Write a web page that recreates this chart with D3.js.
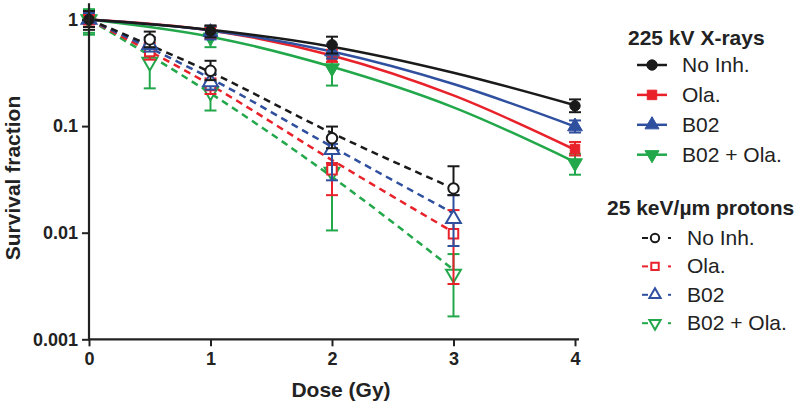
<!DOCTYPE html>
<html><head><meta charset="utf-8">
<script src="https://cdn.jsdelivr.net/npm/d3@7"></script>
<style>body{margin:0;background:#fff}svg{display:block;font-family:"Liberation Sans",Arial,Helvetica,sans-serif}</style>
</head><body><svg id="c" width="800" height="405"></svg>
<script>
// ---------- data ----------
const seriesNames = ["No Inh.", "Ola.", "B02", "B02 + Ola."];
const seriesColors = ["#1a1a1a", "#e8212a", "#2f4f9f", "#22a84a"];
const seriesSymbols = ["circle", "square", "triangle", "triangleDown"];
const xTicks = [0, 1, 2, 3, 4];
const yTicks = [1, 0.1, 0.01, 0.001];
const yTickLabels = ["1", "0.1", "0.01", "0.001"];

// 225 kV X-rays (filled markers, solid fit)
const xrayDoses = [0, 1, 2, 4];
const xrayMean  = [[1, 0.78, 0.58, 0.155], [1, 0.76, 0.45, 0.061], [1, 0.76, 0.50, 0.099], [1, 0.68, 0.35, 0.045]];
const xrayUpper = [[1.2, 0.88, 0.69, 0.178], [1.1, 0.85, 0.52, 0.071], [1.15, 0.87, 0.58, 0.113], [1.25, 0.85, 0.45, 0.055]];
const xrayLower = [[0.85, 0.68, 0.48, 0.135], [0.9, 0.66, 0.40, 0.053], [0.85, 0.65, 0.43, 0.087], [0.72, 0.55, 0.24, 0.035]];
const xrayFitDoses = [0, 1, 2, 3, 4];
const xrayFit = [[1, 0.80, 0.556, 0.317, 0.157], [1, 0.79, 0.46, 0.194, 0.060], [1, 0.79, 0.50, 0.248, 0.099], [1, 0.69, 0.36, 0.150, 0.046]];

// 25 keV/µm protons (open markers, dashed fit)
const protonDoses = [0, 0.5, 1, 2, 3];
const protonMean  = [[1, 0.65, 0.33, 0.077, 0.026], [1, 0.50, 0.24, 0.039, 0.0098], [1, 0.58, 0.26, 0.060, 0.0135], [1, 0.40, 0.21, 0.037, 0.0041]];
const protonUpper = [[1.2, 0.77, 0.41, 0.099, 0.042], [1.1, 0.60, 0.28, 0.045, 0.0163], [1.15, 0.68, 0.31, 0.068, 0.0225], [1.2, 0.52, 0.26, 0.045, 0.0063]];
const protonLower = [[0.8, 0.55, 0.27, 0.062, 0.0225], [0.85, 0.42, 0.20, 0.0225, 0.0033], [0.85, 0.50, 0.22, 0.031, 0.0075], [0.75, 0.226, 0.14, 0.0105, 0.00164]];
const protonFitDoses = [0, 1, 2, 3];
const protonFit = [[1, 0.32, 0.086, 0.026], [1, 0.243, 0.048, 0.0101], [1, 0.28, 0.064, 0.0152], [1, 0.203, 0.0334, 0.0045]];

// ---------- drawing ----------
const svg = d3.select("#c");
const x = d3.scaleLinear().domain([0, 4]).range([89, 575]);
const y = d3.scaleLog().domain([0.001, 1]).range([339.3, 19.5]);
const axisColor = "#222";

function symPath(name, size) {
  const t = name === "circle" ? d3.symbolCircle : name === "square" ? d3.symbolSquare : d3.symbolTriangle;
  return d3.symbol().type(t).size(size)();
}
function addMarker(g, name, cx, cy, color, open, size) {
  const p = g.append("path").attr("d", symPath(name, size))
    .attr("transform", `translate(${cx},${cy})` + (name === "triangleDown" ? " rotate(180)" : ""));
  if (open) p.attr("fill", "#fff").attr("stroke", color).attr("stroke-width", 2);
  else p.attr("fill", color).attr("stroke", color).attr("stroke-width", 1);
}

const line = d3.line().x(d => x(d[0])).y(d => y(d[1])).curve(d3.curveMonotoneX);
const plot = svg.append("g");

function drawGroup(doses, mean, up, lo, fitDoses, fit, dashed, open, order) {
  order.forEach(i => {
    const c = seriesColors[i];
    plot.append("path").datum(fitDoses.map((d, k) => [d, fit[i][k]]))
      .attr("d", line).attr("fill", "none").attr("stroke", c).attr("stroke-width", 2.5)
      .attr("stroke-dasharray", dashed ? "7,5" : null);
  });
  order.forEach(i => {
    const c = seriesColors[i];
    const g = plot.append("g");
    doses.forEach((d, k) => {
      const cx = x(d);
      g.append("line").attr("x1", cx).attr("x2", cx).attr("y1", y(up[i][k])).attr("y2", y(lo[i][k]))
        .attr("stroke", c).attr("stroke-width", 2);
      [up[i][k], lo[i][k]].forEach(v => g.append("line").attr("x1", cx - 6).attr("x2", cx + 6)
        .attr("y1", y(v)).attr("y2", y(v)).attr("stroke", c).attr("stroke-width", 2));
    });
    doses.forEach((d, k) => addMarker(g, seriesSymbols[i], x(d), y(mean[i][k]), c, open,
      seriesSymbols[i] === "square" ? 90 : seriesSymbols[i] === "circle" ? 85 : 95));
  });
}
drawGroup(protonDoses, protonMean, protonUpper, protonLower, protonFitDoses, protonFit, true, true, [3, 1, 2, 0]);
drawGroup(xrayDoses, xrayMean, xrayUpper, xrayLower, xrayFitDoses, xrayFit, false, false, [3, 1, 2, 0]);

// axes
const xAxis = svg.append("g").attr("transform", `translate(0,${y(0.001)})`)
  .call(d3.axisBottom(x).tickValues(xTicks).tickFormat(d3.format("d")).tickSize(7).tickSizeOuter(0));
xAxis.select(".domain").remove();
svg.append("line").attr("x1", x(0) - 1).attr("x2", x(4) + 4).attr("y1", y(0.001)).attr("y2", y(0.001))
  .attr("stroke", axisColor).attr("stroke-width", 2.2);
xAxis.selectAll(".tick line").attr("stroke", axisColor).attr("stroke-width", 2);
xAxis.selectAll(".tick text").attr("font-size", 18).attr("font-weight", "bold").attr("fill", axisColor)
  .attr("font-family", "Liberation Sans, Arial, sans-serif").attr("dy", "0.85em").attr("y", 10);

const yAxis = svg.append("g").attr("transform", `translate(${x(0)},0)`)
  .call(d3.axisLeft(y).tickValues(yTicks).tickFormat((d, i) => yTickLabels[i]).tickSize(7).tickSizeOuter(0));
yAxis.select(".domain").remove();
svg.append("line").attr("x1", x(0)).attr("x2", x(0)).attr("y1", y(0.001) + 1).attr("y2", y(1.42))
  .attr("stroke", axisColor).attr("stroke-width", 2.2);
yAxis.selectAll(".tick line").attr("stroke", axisColor).attr("stroke-width", 2);
yAxis.selectAll(".tick text").attr("font-size", 18).attr("font-weight", "bold").attr("fill", axisColor)
  .attr("font-family", "Liberation Sans, Arial, sans-serif").attr("x", -11);

svg.append("text").attr("x", 341).attr("y", 397).attr("text-anchor", "middle")
  .attr("font-size", 21).attr("font-weight", "bold").attr("fill", axisColor).text("Dose (Gy)");
svg.append("text").attr("transform", "translate(20,178) rotate(-90)").attr("text-anchor", "middle")
  .attr("font-size", 21).attr("font-weight", "bold").attr("fill", axisColor).text("Survival fraction");

// legends
const leg = svg.append("g");
leg.append("text").attr("x", 628).attr("y", 45).attr("font-size", 21).attr("font-weight", "bold")
  .attr("fill", axisColor).text("225 kV X-rays");
seriesNames.forEach((n, i) => {
  const by = 72 + i * 29.9, cy = by - 7, c = seriesColors[i];
  leg.append("line").attr("x1", 637).attr("x2", 667).attr("y1", cy).attr("y2", cy).attr("stroke", c).attr("stroke-width", 2.5);
  addMarker(leg, seriesSymbols[i], 652, cy, c, false, seriesSymbols[i] === "square" ? 90 : 85);
  leg.append("text").attr("x", 682).attr("y", by).attr("font-size", 21).attr("fill", axisColor).text(n);
});
leg.append("text").attr("x", 607).attr("y", 215).attr("font-size", 21).attr("font-weight", "bold")
  .attr("fill", axisColor).text("25 keV/µm protons");
seriesNames.forEach((n, i) => {
  const by = 245 + i * 28.4, cy = by - 7, c = seriesColors[i];
  leg.append("line").attr("x1", 642).attr("x2", 648).attr("y1", cy).attr("y2", cy).attr("stroke", c).attr("stroke-width", 2);
  leg.append("line").attr("x1", 668).attr("x2", 671).attr("y1", cy).attr("y2", cy).attr("stroke", c).attr("stroke-width", 2);
  addMarker(leg, seriesSymbols[i], 655, cy, c, true, 55);
  leg.append("text").attr("x", 687).attr("y", by).attr("font-size", 21).attr("fill", axisColor).text(n);
});
</script></body></html>
